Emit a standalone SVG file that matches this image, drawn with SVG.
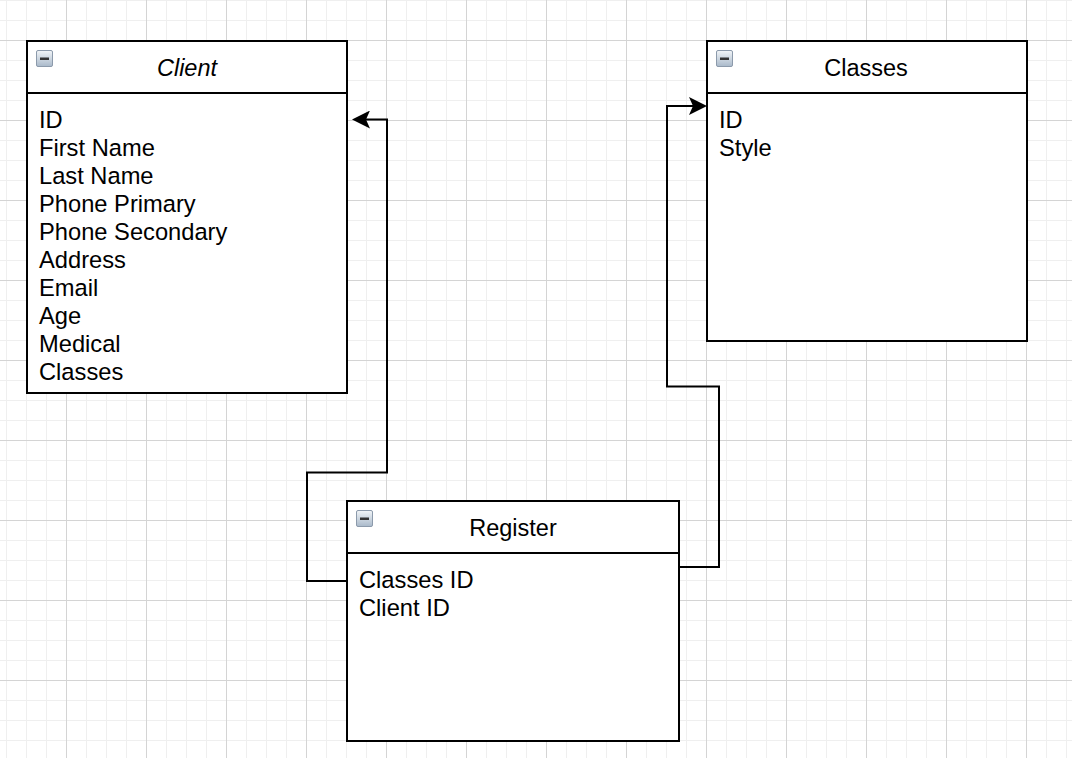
<svg xmlns="http://www.w3.org/2000/svg" width="1072" height="758" viewBox="0 0 1072 758">
  <defs>
    <pattern id="gridMinor" patternUnits="userSpaceOnUse" x="6" y="0" width="20" height="20">
      <rect x="0" y="0" width="1" height="20" fill="#efefef"/>
      <rect x="0" y="0" width="20" height="1" fill="#efefef"/>
    </pattern>
    <pattern id="gridMajor" patternUnits="userSpaceOnUse" x="66" y="40" width="80" height="80">
      <rect x="0" y="0" width="1" height="80" fill="#d4d4d4"/>
      <rect x="0" y="0" width="80" height="1" fill="#d4d4d4"/>
    </pattern>
    <linearGradient id="iconGrad" x1="0" y1="0" x2="0" y2="1">
      <stop offset="0" stop-color="#f2f5f8"/>
      <stop offset="1" stop-color="#a9b9ca"/>
    </linearGradient>
    <marker id="arrow" viewBox="0 0 18 18" markerWidth="18" markerHeight="18" refX="14" refY="9" orient="auto" markerUnits="userSpaceOnUse">
      <path d="M0,0 L18,9 L0,18 L4,9 Z" fill="#000"/>
    </marker>
    <g id="collapseIcon">
      <rect x="0.5" y="0.5" width="16" height="16" rx="1.5" fill="url(#iconGrad)" stroke="#8c9aab" stroke-width="1"/>
      <rect x="4" y="7.5" width="9" height="2.5" fill="#333"/>
    </g>
  </defs>
  <style>
    .box { fill: #fff; stroke: #000; stroke-width: 2; }
    .sep { stroke: #000; stroke-width: 2; }
    .title { font-family: "Liberation Sans", Arial, sans-serif; font-size: 23.5px; fill: #000; text-anchor: middle; }
    .item { font-family: "Liberation Sans", Arial, sans-serif; font-size: 23.7px; fill: #000; }
    .conn { fill: none; stroke: #000; stroke-width: 2; }
  </style>

  <rect x="0" y="0" width="1072" height="758" fill="#fff"/>
  <rect x="0" y="0" width="1072" height="758" fill="url(#gridMinor)"/>
  <rect x="0" y="0" width="1072" height="758" fill="url(#gridMajor)"/>

  <g id="connectors">
    <path class="conn" d="M347,581 H307 V472.5 H387 V119.5 H356" marker-end="url(#arrow)"/>
    <path class="conn" d="M677,567 H719 V386.5 H667 V106 H703" marker-end="url(#arrow)"/>
  </g>

  <g id="client">
    <rect class="box" x="27" y="41" width="320" height="352"/>
    <line class="sep" x1="27" y1="93" x2="347" y2="93"/>
    <use href="#collapseIcon" x="36" y="50"/>
    <text class="title" x="187" y="75.5" font-style="italic">Client</text>
    <text class="item" x="39" y="127.5">ID</text>
    <text class="item" x="39" y="155.5">First Name</text>
    <text class="item" x="39" y="183.5">Last Name</text>
    <text class="item" x="39" y="211.5">Phone Primary</text>
    <text class="item" x="39" y="239.5">Phone Secondary</text>
    <text class="item" x="39" y="267.5">Address</text>
    <text class="item" x="39" y="295.5">Email</text>
    <text class="item" x="39" y="323.5">Age</text>
    <text class="item" x="39" y="351.5">Medical</text>
    <text class="item" x="39" y="379.5">Classes</text>
  </g>

  <g id="classes">
    <rect class="box" x="707" y="41" width="320" height="300"/>
    <line class="sep" x1="707" y1="93" x2="1027" y2="93"/>
    <use href="#collapseIcon" x="716" y="50"/>
    <text class="title" x="866" y="75.5">Classes</text>
    <text class="item" x="719" y="127.5">ID</text>
    <text class="item" x="719" y="155.5">Style</text>
  </g>

  <g id="register">
    <rect class="box" x="347" y="501" width="332" height="240"/>
    <line class="sep" x1="347" y1="553" x2="679" y2="553"/>
    <use href="#collapseIcon" x="356" y="510"/>
    <text class="title" x="513" y="535.5">Register</text>
    <text class="item" x="359" y="587.5">Classes ID</text>
    <text class="item" x="359" y="615.5">Client ID</text>
  </g>
</svg>
